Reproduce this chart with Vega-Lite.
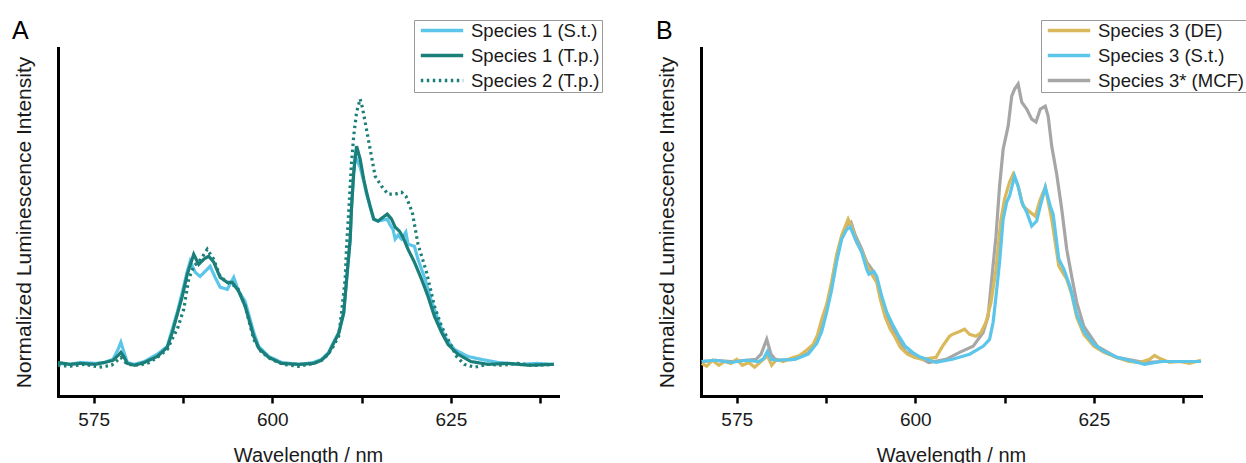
{
"$schema": "https://vega.github.io/schema/vega-lite/v6.json",
"background": "white",
"padding": {"left": 12, "top": 18, "right": 2, "bottom": 0},
"bounds": "flush",
"spacing": 143,
"datasets": {
"A": [
{"s":"Species 1 (S.t.)","w":570.0,"v":0.003},{"s":"Species 1 (S.t.)","w":571.7,"v":0.0},{"s":"Species 1 (S.t.)","w":573.1,"v":0.006},{"s":"Species 1 (S.t.)","w":575.2,"v":0.003},{"s":"Species 1 (S.t.)","w":576.5,"v":0.006},{"s":"Species 1 (S.t.)","w":577.7,"v":0.016},{"s":"Species 1 (S.t.)","w":578.4,"v":0.047},{"s":"Species 1 (S.t.)","w":578.8,"v":0.07},{"s":"Species 1 (S.t.)","w":579.2,"v":0.041},{"s":"Species 1 (S.t.)","w":579.7,"v":0.006},{"s":"Species 1 (S.t.)","w":580.7,"v":0.0},{"s":"Species 1 (S.t.)","w":582.1,"v":0.009},{"s":"Species 1 (S.t.)","w":583.9,"v":0.032},{"s":"Species 1 (S.t.)","w":585.3,"v":0.057},{"s":"Species 1 (S.t.)","w":586.0,"v":0.111},{"s":"Species 1 (S.t.)","w":586.7,"v":0.165},{"s":"Species 1 (S.t.)","w":587.4,"v":0.228},{"s":"Species 1 (S.t.)","w":588.1,"v":0.294},{"s":"Species 1 (S.t.)","w":588.5,"v":0.326},{"s":"Species 1 (S.t.)","w":589.2,"v":0.291},{"s":"Species 1 (S.t.)","w":589.9,"v":0.278},{"s":"Species 1 (S.t.)","w":590.6,"v":0.294},{"s":"Species 1 (S.t.)","w":591.3,"v":0.31},{"s":"Species 1 (S.t.)","w":592.0,"v":0.275},{"s":"Species 1 (S.t.)","w":592.7,"v":0.244},{"s":"Species 1 (S.t.)","w":593.7,"v":0.237},{"s":"Species 1 (S.t.)","w":594.6,"v":0.275},{"s":"Species 1 (S.t.)","w":595.3,"v":0.231},{"s":"Species 1 (S.t.)","w":596.2,"v":0.199},{"s":"Species 1 (S.t.)","w":597.4,"v":0.101},{"s":"Species 1 (S.t.)","w":598.1,"v":0.057},{"s":"Species 1 (S.t.)","w":599.5,"v":0.025},{"s":"Species 1 (S.t.)","w":601.3,"v":0.006},{"s":"Species 1 (S.t.)","w":603.7,"v":0.0},{"s":"Species 1 (S.t.)","w":605.8,"v":0.006},{"s":"Species 1 (S.t.)","w":606.9,"v":0.016},{"s":"Species 1 (S.t.)","w":607.9,"v":0.038},{"s":"Species 1 (S.t.)","w":608.3,"v":0.057},{"s":"Species 1 (S.t.)","w":609.3,"v":0.101},{"s":"Species 1 (S.t.)","w":610.0,"v":0.165},{"s":"Species 1 (S.t.)","w":610.4,"v":0.269},{"s":"Species 1 (S.t.)","w":610.9,"v":0.396},{"s":"Species 1 (S.t.)","w":611.1,"v":0.5},{"s":"Species 1 (S.t.)","w":611.4,"v":0.608},{"s":"Species 1 (S.t.)","w":611.6,"v":0.658},{"s":"Species 1 (S.t.)","w":611.8,"v":0.649},{"s":"Species 1 (S.t.)","w":612.3,"v":0.623},{"s":"Species 1 (S.t.)","w":612.8,"v":0.579},{"s":"Species 1 (S.t.)","w":613.2,"v":0.538},{"s":"Species 1 (S.t.)","w":613.7,"v":0.497},{"s":"Species 1 (S.t.)","w":614.2,"v":0.459},{"s":"Species 1 (S.t.)","w":614.8,"v":0.453},{"s":"Species 1 (S.t.)","w":615.5,"v":0.456},{"s":"Species 1 (S.t.)","w":616.1,"v":0.459},{"s":"Species 1 (S.t.)","w":616.5,"v":0.44},{"s":"Species 1 (S.t.)","w":616.9,"v":0.427},{"s":"Species 1 (S.t.)","w":617.2,"v":0.396},{"s":"Species 1 (S.t.)","w":617.6,"v":0.408},{"s":"Species 1 (S.t.)","w":618.1,"v":0.396},{"s":"Species 1 (S.t.)","w":618.7,"v":0.418},{"s":"Species 1 (S.t.)","w":619.0,"v":0.38},{"s":"Species 1 (S.t.)","w":619.9,"v":0.373},{"s":"Species 1 (S.t.)","w":620.4,"v":0.332},{"s":"Species 1 (S.t.)","w":621.4,"v":0.269},{"s":"Species 1 (S.t.)","w":622.2,"v":0.206},{"s":"Species 1 (S.t.)","w":623.2,"v":0.142},{"s":"Species 1 (S.t.)","w":624.1,"v":0.089},{"s":"Species 1 (S.t.)","w":625.5,"v":0.047},{"s":"Species 1 (S.t.)","w":627.4,"v":0.025},{"s":"Species 1 (S.t.)","w":629.2,"v":0.016},{"s":"Species 1 (S.t.)","w":631.6,"v":0.006},{"s":"Species 1 (S.t.)","w":634.8,"v":0.0},{"s":"Species 1 (S.t.)","w":637.1,"v":0.003},{"s":"Species 1 (S.t.)","w":639.4,"v":0.0},
{"s":"Species 1 (T.p.)","w":570.0,"v":0.006},{"s":"Species 1 (T.p.)","w":571.7,"v":0.0},{"s":"Species 1 (T.p.)","w":573.1,"v":0.003},{"s":"Species 1 (T.p.)","w":575.2,"v":0.0},{"s":"Species 1 (T.p.)","w":576.5,"v":0.006},{"s":"Species 1 (T.p.)","w":577.7,"v":0.013},{"s":"Species 1 (T.p.)","w":578.4,"v":0.028},{"s":"Species 1 (T.p.)","w":578.8,"v":0.038},{"s":"Species 1 (T.p.)","w":579.2,"v":0.025},{"s":"Species 1 (T.p.)","w":579.7,"v":0.003},{"s":"Species 1 (T.p.)","w":580.7,"v":-0.003},{"s":"Species 1 (T.p.)","w":582.1,"v":0.006},{"s":"Species 1 (T.p.)","w":583.9,"v":0.025},{"s":"Species 1 (T.p.)","w":585.3,"v":0.054},{"s":"Species 1 (T.p.)","w":586.0,"v":0.101},{"s":"Species 1 (T.p.)","w":586.7,"v":0.158},{"s":"Species 1 (T.p.)","w":587.4,"v":0.215},{"s":"Species 1 (T.p.)","w":588.1,"v":0.285},{"s":"Species 1 (T.p.)","w":589.0,"v":0.348},{"s":"Species 1 (T.p.)","w":589.7,"v":0.316},{"s":"Species 1 (T.p.)","w":590.4,"v":0.332},{"s":"Species 1 (T.p.)","w":591.1,"v":0.342},{"s":"Species 1 (T.p.)","w":591.8,"v":0.323},{"s":"Species 1 (T.p.)","w":592.7,"v":0.275},{"s":"Species 1 (T.p.)","w":593.7,"v":0.259},{"s":"Species 1 (T.p.)","w":594.4,"v":0.259},{"s":"Species 1 (T.p.)","w":595.3,"v":0.231},{"s":"Species 1 (T.p.)","w":596.2,"v":0.184},{"s":"Species 1 (T.p.)","w":597.4,"v":0.089},{"s":"Species 1 (T.p.)","w":598.1,"v":0.051},{"s":"Species 1 (T.p.)","w":599.5,"v":0.022},{"s":"Species 1 (T.p.)","w":601.3,"v":0.003},{"s":"Species 1 (T.p.)","w":603.7,"v":0.0},{"s":"Species 1 (T.p.)","w":605.8,"v":0.003},{"s":"Species 1 (T.p.)","w":606.9,"v":0.013},{"s":"Species 1 (T.p.)","w":607.9,"v":0.035},{"s":"Species 1 (T.p.)","w":608.3,"v":0.054},{"s":"Species 1 (T.p.)","w":609.3,"v":0.098},{"s":"Species 1 (T.p.)","w":610.0,"v":0.162},{"s":"Species 1 (T.p.)","w":610.4,"v":0.266},{"s":"Species 1 (T.p.)","w":610.9,"v":0.393},{"s":"Species 1 (T.p.)","w":611.1,"v":0.497},{"s":"Species 1 (T.p.)","w":611.4,"v":0.605},{"s":"Species 1 (T.p.)","w":611.6,"v":0.649},{"s":"Species 1 (T.p.)","w":611.8,"v":0.69},{"s":"Species 1 (T.p.)","w":612.3,"v":0.649},{"s":"Species 1 (T.p.)","w":612.8,"v":0.585},{"s":"Species 1 (T.p.)","w":613.2,"v":0.544},{"s":"Species 1 (T.p.)","w":613.7,"v":0.5},{"s":"Species 1 (T.p.)","w":614.2,"v":0.459},{"s":"Species 1 (T.p.)","w":614.8,"v":0.453},{"s":"Species 1 (T.p.)","w":615.5,"v":0.465},{"s":"Species 1 (T.p.)","w":616.1,"v":0.475},{"s":"Species 1 (T.p.)","w":616.7,"v":0.459},{"s":"Species 1 (T.p.)","w":617.2,"v":0.434},{"s":"Species 1 (T.p.)","w":617.8,"v":0.421},{"s":"Species 1 (T.p.)","w":618.3,"v":0.402},{"s":"Species 1 (T.p.)","w":619.0,"v":0.364},{"s":"Species 1 (T.p.)","w":619.9,"v":0.323},{"s":"Species 1 (T.p.)","w":620.9,"v":0.269},{"s":"Species 1 (T.p.)","w":621.8,"v":0.215},{"s":"Species 1 (T.p.)","w":622.7,"v":0.152},{"s":"Species 1 (T.p.)","w":623.7,"v":0.101},{"s":"Species 1 (T.p.)","w":624.6,"v":0.063},{"s":"Species 1 (T.p.)","w":626.0,"v":0.032},{"s":"Species 1 (T.p.)","w":627.8,"v":0.009},{"s":"Species 1 (T.p.)","w":630.2,"v":0.0},{"s":"Species 1 (T.p.)","w":633.0,"v":0.003},{"s":"Species 1 (T.p.)","w":636.0,"v":-0.003},{"s":"Species 1 (T.p.)","w":639.4,"v":0.0},
{"s":"Species 2 (T.p.)","w":570.0,"v":-0.003},{"s":"Species 2 (T.p.)","w":571.7,"v":-0.006},{"s":"Species 2 (T.p.)","w":573.8,"v":0.0},{"s":"Species 2 (T.p.)","w":575.8,"v":-0.009},{"s":"Species 2 (T.p.)","w":577.5,"v":-0.003},{"s":"Species 2 (T.p.)","w":578.8,"v":0.022},{"s":"Species 2 (T.p.)","w":579.7,"v":0.0},{"s":"Species 2 (T.p.)","w":581.4,"v":-0.003},{"s":"Species 2 (T.p.)","w":582.8,"v":0.006},{"s":"Species 2 (T.p.)","w":583.9,"v":0.022},{"s":"Species 2 (T.p.)","w":585.3,"v":0.047},{"s":"Species 2 (T.p.)","w":586.3,"v":0.095},{"s":"Species 2 (T.p.)","w":586.7,"v":0.111},{"s":"Species 2 (T.p.)","w":587.6,"v":0.174},{"s":"Species 2 (T.p.)","w":588.3,"v":0.269},{"s":"Species 2 (T.p.)","w":589.0,"v":0.31},{"s":"Species 2 (T.p.)","w":590.0,"v":0.332},{"s":"Species 2 (T.p.)","w":590.9,"v":0.364},{"s":"Species 2 (T.p.)","w":591.8,"v":0.332},{"s":"Species 2 (T.p.)","w":592.7,"v":0.278},{"s":"Species 2 (T.p.)","w":593.7,"v":0.259},{"s":"Species 2 (T.p.)","w":595.1,"v":0.244},{"s":"Species 2 (T.p.)","w":596.2,"v":0.184},{"s":"Species 2 (T.p.)","w":597.4,"v":0.079},{"s":"Species 2 (T.p.)","w":598.4,"v":0.041},{"s":"Species 2 (T.p.)","w":599.8,"v":0.016},{"s":"Species 2 (T.p.)","w":601.6,"v":0.0},{"s":"Species 2 (T.p.)","w":603.7,"v":-0.006},{"s":"Species 2 (T.p.)","w":605.8,"v":0.003},{"s":"Species 2 (T.p.)","w":607.2,"v":0.016},{"s":"Species 2 (T.p.)","w":608.3,"v":0.047},{"s":"Species 2 (T.p.)","w":609.3,"v":0.089},{"s":"Species 2 (T.p.)","w":609.7,"v":0.165},{"s":"Species 2 (T.p.)","w":610.2,"v":0.269},{"s":"Species 2 (T.p.)","w":610.4,"v":0.373},{"s":"Species 2 (T.p.)","w":610.7,"v":0.481},{"s":"Species 2 (T.p.)","w":610.9,"v":0.563},{"s":"Species 2 (T.p.)","w":611.1,"v":0.639},{"s":"Species 2 (T.p.)","w":611.4,"v":0.722},{"s":"Species 2 (T.p.)","w":611.8,"v":0.797},{"s":"Species 2 (T.p.)","w":612.3,"v":0.839},{"s":"Species 2 (T.p.)","w":612.6,"v":0.813},{"s":"Species 2 (T.p.)","w":613.0,"v":0.766},{"s":"Species 2 (T.p.)","w":613.7,"v":0.68},{"s":"Species 2 (T.p.)","w":614.4,"v":0.595},{"s":"Species 2 (T.p.)","w":615.3,"v":0.563},{"s":"Species 2 (T.p.)","w":616.2,"v":0.538},{"s":"Species 2 (T.p.)","w":617.2,"v":0.538},{"s":"Species 2 (T.p.)","w":618.1,"v":0.544},{"s":"Species 2 (T.p.)","w":618.7,"v":0.532},{"s":"Species 2 (T.p.)","w":619.6,"v":0.481},{"s":"Species 2 (T.p.)","w":620.4,"v":0.38},{"s":"Species 2 (T.p.)","w":621.6,"v":0.291},{"s":"Species 2 (T.p.)","w":622.7,"v":0.184},{"s":"Species 2 (T.p.)","w":623.7,"v":0.12},{"s":"Species 2 (T.p.)","w":624.8,"v":0.07},{"s":"Species 2 (T.p.)","w":625.8,"v":0.025},{"s":"Species 2 (T.p.)","w":626.9,"v":0.0},{"s":"Species 2 (T.p.)","w":628.3,"v":-0.009},{"s":"Species 2 (T.p.)","w":630.2,"v":0.0},{"s":"Species 2 (T.p.)","w":632.3,"v":-0.003},{"s":"Species 2 (T.p.)","w":634.3,"v":0.003},{"s":"Species 2 (T.p.)","w":636.4,"v":-0.003},{"s":"Species 2 (T.p.)","w":639.4,"v":0.0}
],
"B": [
{"s":"Species 3* (MCF)","w":570.1,"v":0.009},{"s":"Species 3* (MCF)","w":572.0,"v":0.013},{"s":"Species 3* (MCF)","w":574.2,"v":0.009},{"s":"Species 3* (MCF)","w":576.3,"v":0.013},{"s":"Species 3* (MCF)","w":577.7,"v":0.016},{"s":"Species 3* (MCF)","w":578.4,"v":0.032},{"s":"Species 3* (MCF)","w":579.2,"v":0.079},{"s":"Species 3* (MCF)","w":579.8,"v":0.032},{"s":"Species 3* (MCF)","w":580.5,"v":0.013},{"s":"Species 3* (MCF)","w":583.1,"v":0.016},{"s":"Species 3* (MCF)","w":585.0,"v":0.035},{"s":"Species 3* (MCF)","w":586.2,"v":0.07},{"s":"Species 3* (MCF)","w":586.9,"v":0.117},{"s":"Species 3* (MCF)","w":587.6,"v":0.18},{"s":"Species 3* (MCF)","w":588.3,"v":0.253},{"s":"Species 3* (MCF)","w":589.0,"v":0.339},{"s":"Species 3* (MCF)","w":589.7,"v":0.402},{"s":"Species 3* (MCF)","w":590.4,"v":0.44},{"s":"Species 3* (MCF)","w":591.0,"v":0.449},{"s":"Species 3* (MCF)","w":591.6,"v":0.408},{"s":"Species 3* (MCF)","w":592.5,"v":0.364},{"s":"Species 3* (MCF)","w":593.2,"v":0.323},{"s":"Species 3* (MCF)","w":593.9,"v":0.301},{"s":"Species 3* (MCF)","w":594.6,"v":0.269},{"s":"Species 3* (MCF)","w":595.3,"v":0.212},{"s":"Species 3* (MCF)","w":596.0,"v":0.158},{"s":"Species 3* (MCF)","w":596.8,"v":0.111},{"s":"Species 3* (MCF)","w":597.7,"v":0.073},{"s":"Species 3* (MCF)","w":598.6,"v":0.041},{"s":"Species 3* (MCF)","w":599.6,"v":0.028},{"s":"Species 3* (MCF)","w":600.5,"v":0.022},{"s":"Species 3* (MCF)","w":601.9,"v":0.006},{"s":"Species 3* (MCF)","w":604.3,"v":0.016},{"s":"Species 3* (MCF)","w":606.2,"v":0.038},{"s":"Species 3* (MCF)","w":608.1,"v":0.057},{"s":"Species 3* (MCF)","w":609.5,"v":0.101},{"s":"Species 3* (MCF)","w":610.2,"v":0.152},{"s":"Species 3* (MCF)","w":610.6,"v":0.247},{"s":"Species 3* (MCF)","w":611.3,"v":0.405},{"s":"Species 3* (MCF)","w":611.8,"v":0.563},{"s":"Species 3* (MCF)","w":612.3,"v":0.68},{"s":"Species 3* (MCF)","w":613.0,"v":0.753},{"s":"Species 3* (MCF)","w":613.5,"v":0.848},{"s":"Species 3* (MCF)","w":613.9,"v":0.87},{"s":"Species 3* (MCF)","w":614.4,"v":0.886},{"s":"Species 3* (MCF)","w":614.9,"v":0.829},{"s":"Species 3* (MCF)","w":615.6,"v":0.807},{"s":"Species 3* (MCF)","w":616.3,"v":0.775},{"s":"Species 3* (MCF)","w":616.9,"v":0.766},{"s":"Species 3* (MCF)","w":617.5,"v":0.807},{"s":"Species 3* (MCF)","w":618.2,"v":0.816},{"s":"Species 3* (MCF)","w":618.6,"v":0.785},{"s":"Species 3* (MCF)","w":619.1,"v":0.69},{"s":"Species 3* (MCF)","w":619.8,"v":0.601},{"s":"Species 3* (MCF)","w":620.5,"v":0.491},{"s":"Species 3* (MCF)","w":621.2,"v":0.364},{"s":"Species 3* (MCF)","w":621.9,"v":0.278},{"s":"Species 3* (MCF)","w":622.6,"v":0.196},{"s":"Species 3* (MCF)","w":623.6,"v":0.12},{"s":"Species 3* (MCF)","w":625.5,"v":0.057},{"s":"Species 3* (MCF)","w":628.2,"v":0.022},{"s":"Species 3* (MCF)","w":632.1,"v":0.006},{"s":"Species 3* (MCF)","w":634.9,"v":0.009},{"s":"Species 3* (MCF)","w":640.0,"v":0.009},
{"s":"Species 3 (DE)","w":570.1,"v":0.003},{"s":"Species 3 (DE)","w":570.8,"v":-0.006},{"s":"Species 3 (DE)","w":571.6,"v":0.013},{"s":"Species 3 (DE)","w":572.5,"v":-0.003},{"s":"Species 3 (DE)","w":573.3,"v":0.009},{"s":"Species 3 (DE)","w":574.2,"v":0.003},{"s":"Species 3 (DE)","w":575.0,"v":0.016},{"s":"Species 3 (DE)","w":575.8,"v":-0.003},{"s":"Species 3 (DE)","w":576.7,"v":0.006},{"s":"Species 3 (DE)","w":577.5,"v":-0.009},{"s":"Species 3 (DE)","w":578.4,"v":0.009},{"s":"Species 3 (DE)","w":579.3,"v":0.028},{"s":"Species 3 (DE)","w":579.9,"v":-0.003},{"s":"Species 3 (DE)","w":580.6,"v":0.016},{"s":"Species 3 (DE)","w":581.5,"v":0.009},{"s":"Species 3 (DE)","w":582.6,"v":0.019},{"s":"Species 3 (DE)","w":583.8,"v":0.028},{"s":"Species 3 (DE)","w":584.9,"v":0.047},{"s":"Species 3 (DE)","w":585.7,"v":0.063},{"s":"Species 3 (DE)","w":586.3,"v":0.092},{"s":"Species 3 (DE)","w":586.9,"v":0.142},{"s":"Species 3 (DE)","w":587.6,"v":0.19},{"s":"Species 3 (DE)","w":588.3,"v":0.263},{"s":"Species 3 (DE)","w":589.0,"v":0.348},{"s":"Species 3 (DE)","w":589.7,"v":0.408},{"s":"Species 3 (DE)","w":590.6,"v":0.459},{"s":"Species 3 (DE)","w":591.1,"v":0.434},{"s":"Species 3 (DE)","w":591.8,"v":0.386},{"s":"Species 3 (DE)","w":592.5,"v":0.358},{"s":"Species 3 (DE)","w":593.2,"v":0.316},{"s":"Species 3 (DE)","w":593.9,"v":0.285},{"s":"Species 3 (DE)","w":594.6,"v":0.259},{"s":"Species 3 (DE)","w":595.1,"v":0.206},{"s":"Species 3 (DE)","w":595.8,"v":0.149},{"s":"Species 3 (DE)","w":596.5,"v":0.111},{"s":"Species 3 (DE)","w":597.2,"v":0.085},{"s":"Species 3 (DE)","w":597.9,"v":0.054},{"s":"Species 3 (DE)","w":598.9,"v":0.032},{"s":"Species 3 (DE)","w":599.9,"v":0.022},{"s":"Species 3 (DE)","w":601.0,"v":0.016},{"s":"Species 3 (DE)","w":602.9,"v":0.022},{"s":"Species 3 (DE)","w":603.8,"v":0.057},{"s":"Species 3 (DE)","w":604.8,"v":0.089},{"s":"Species 3 (DE)","w":605.2,"v":0.095},{"s":"Species 3 (DE)","w":606.2,"v":0.104},{"s":"Species 3 (DE)","w":606.9,"v":0.111},{"s":"Species 3 (DE)","w":607.6,"v":0.095},{"s":"Species 3 (DE)","w":608.5,"v":0.089},{"s":"Species 3 (DE)","w":609.2,"v":0.101},{"s":"Species 3 (DE)","w":609.9,"v":0.133},{"s":"Species 3 (DE)","w":610.6,"v":0.196},{"s":"Species 3 (DE)","w":611.3,"v":0.301},{"s":"Species 3 (DE)","w":612.0,"v":0.459},{"s":"Species 3 (DE)","w":612.5,"v":0.522},{"s":"Species 3 (DE)","w":613.2,"v":0.576},{"s":"Species 3 (DE)","w":613.7,"v":0.601},{"s":"Species 3 (DE)","w":614.4,"v":0.563},{"s":"Species 3 (DE)","w":615.1,"v":0.5},{"s":"Species 3 (DE)","w":616.1,"v":0.481},{"s":"Species 3 (DE)","w":616.8,"v":0.468},{"s":"Species 3 (DE)","w":617.5,"v":0.522},{"s":"Species 3 (DE)","w":618.2,"v":0.56},{"s":"Species 3 (DE)","w":619.1,"v":0.459},{"s":"Species 3 (DE)","w":620.1,"v":0.31},{"s":"Species 3 (DE)","w":621.2,"v":0.269},{"s":"Species 3 (DE)","w":621.9,"v":0.222},{"s":"Species 3 (DE)","w":622.6,"v":0.149},{"s":"Species 3 (DE)","w":623.6,"v":0.095},{"s":"Species 3 (DE)","w":625.0,"v":0.057},{"s":"Species 3 (DE)","w":626.4,"v":0.038},{"s":"Species 3 (DE)","w":628.2,"v":0.022},{"s":"Species 3 (DE)","w":629.9,"v":0.009},{"s":"Species 3 (DE)","w":631.4,"v":0.006},{"s":"Species 3 (DE)","w":632.8,"v":0.016},{"s":"Species 3 (DE)","w":633.5,"v":0.028},{"s":"Species 3 (DE)","w":634.2,"v":0.019},{"s":"Species 3 (DE)","w":635.6,"v":0.006},{"s":"Species 3 (DE)","w":637.0,"v":0.009},{"s":"Species 3 (DE)","w":638.4,"v":0.003},{"s":"Species 3 (DE)","w":640.0,"v":0.013},
{"s":"Species 3 (S.t.)","w":570.1,"v":0.009},{"s":"Species 3 (S.t.)","w":572.0,"v":0.013},{"s":"Species 3 (S.t.)","w":574.2,"v":0.006},{"s":"Species 3 (S.t.)","w":576.3,"v":0.013},{"s":"Species 3 (S.t.)","w":578.1,"v":0.009},{"s":"Species 3 (S.t.)","w":578.8,"v":0.019},{"s":"Species 3 (S.t.)","w":579.3,"v":0.041},{"s":"Species 3 (S.t.)","w":579.8,"v":0.016},{"s":"Species 3 (S.t.)","w":580.7,"v":0.013},{"s":"Species 3 (S.t.)","w":583.1,"v":0.016},{"s":"Species 3 (S.t.)","w":585.0,"v":0.032},{"s":"Species 3 (S.t.)","w":586.2,"v":0.066},{"s":"Species 3 (S.t.)","w":586.9,"v":0.104},{"s":"Species 3 (S.t.)","w":587.6,"v":0.165},{"s":"Species 3 (S.t.)","w":588.3,"v":0.237},{"s":"Species 3 (S.t.)","w":589.0,"v":0.326},{"s":"Species 3 (S.t.)","w":589.7,"v":0.396},{"s":"Species 3 (S.t.)","w":590.4,"v":0.427},{"s":"Species 3 (S.t.)","w":590.9,"v":0.434},{"s":"Species 3 (S.t.)","w":591.6,"v":0.396},{"s":"Species 3 (S.t.)","w":592.5,"v":0.354},{"s":"Species 3 (S.t.)","w":593.2,"v":0.301},{"s":"Species 3 (S.t.)","w":593.5,"v":0.285},{"s":"Species 3 (S.t.)","w":594.2,"v":0.294},{"s":"Species 3 (S.t.)","w":594.6,"v":0.278},{"s":"Species 3 (S.t.)","w":595.3,"v":0.215},{"s":"Species 3 (S.t.)","w":596.0,"v":0.165},{"s":"Species 3 (S.t.)","w":596.8,"v":0.127},{"s":"Species 3 (S.t.)","w":597.7,"v":0.089},{"s":"Species 3 (S.t.)","w":598.6,"v":0.057},{"s":"Species 3 (S.t.)","w":599.6,"v":0.038},{"s":"Species 3 (S.t.)","w":600.5,"v":0.025},{"s":"Species 3 (S.t.)","w":602.9,"v":0.006},{"s":"Species 3 (S.t.)","w":605.2,"v":0.016},{"s":"Species 3 (S.t.)","w":607.6,"v":0.032},{"s":"Species 3 (S.t.)","w":609.5,"v":0.057},{"s":"Species 3 (S.t.)","w":610.4,"v":0.079},{"s":"Species 3 (S.t.)","w":610.9,"v":0.133},{"s":"Species 3 (S.t.)","w":611.3,"v":0.215},{"s":"Species 3 (S.t.)","w":611.8,"v":0.323},{"s":"Species 3 (S.t.)","w":612.3,"v":0.459},{"s":"Species 3 (S.t.)","w":612.8,"v":0.513},{"s":"Species 3 (S.t.)","w":613.2,"v":0.532},{"s":"Species 3 (S.t.)","w":613.9,"v":0.595},{"s":"Species 3 (S.t.)","w":614.4,"v":0.563},{"s":"Species 3 (S.t.)","w":614.9,"v":0.513},{"s":"Species 3 (S.t.)","w":615.6,"v":0.481},{"s":"Species 3 (S.t.)","w":616.3,"v":0.437},{"s":"Species 3 (S.t.)","w":617.0,"v":0.453},{"s":"Species 3 (S.t.)","w":617.5,"v":0.5},{"s":"Species 3 (S.t.)","w":618.2,"v":0.56},{"s":"Species 3 (S.t.)","w":618.9,"v":0.5},{"s":"Species 3 (S.t.)","w":619.3,"v":0.475},{"s":"Species 3 (S.t.)","w":620.1,"v":0.332},{"s":"Species 3 (S.t.)","w":620.8,"v":0.301},{"s":"Species 3 (S.t.)","w":621.7,"v":0.244},{"s":"Species 3 (S.t.)","w":622.6,"v":0.158},{"s":"Species 3 (S.t.)","w":623.6,"v":0.104},{"s":"Species 3 (S.t.)","w":625.0,"v":0.063},{"s":"Species 3 (S.t.)","w":626.4,"v":0.041},{"s":"Species 3 (S.t.)","w":628.3,"v":0.022},{"s":"Species 3 (S.t.)","w":630.6,"v":0.009},{"s":"Species 3 (S.t.)","w":632.1,"v":0.0},{"s":"Species 3 (S.t.)","w":634.4,"v":0.009},{"s":"Species 3 (S.t.)","w":637.0,"v":0.009},{"s":"Species 3 (S.t.)","w":640.0,"v":0.009}
]
},
"hconcat": [
{
"width": 500, "height": 348,
"title": {"text": "A", "anchor": "start", "frame": "group", "dx": -46, "dy": 44, "offset": 0, "baseline": "alphabetic", "fontSize": 25, "fontWeight": "normal", "font": "Liberation Sans", "color": "#000"},
"data": {"name": "A"},
"mark": {"type": "line", "strokeWidth": 3.2},
"encoding": {
"x": {"field": "w", "type": "quantitative", "scale": {"domain": [570, 640], "nice": false, "zero": false}, "axis": {"title": "Wavelength / nm", "values": [575, 587.5, 600, 612.5, 625, 637.5], "labelExpr": "datum.value % 25 == 0 ? datum.label : ''"}},
"y": {"field": "v", "type": "quantitative", "scale": {"domain": [-0.1, 1.0], "nice": false, "zero": false}, "axis": {"title": "Normalized Luminescence Intensity"}},
"color": {"field": "s", "type": "nominal", "title": null, "scale": {"domain": ["Species 1 (S.t.)", "Species 1 (T.p.)", "Species 2 (T.p.)"], "range": ["#5BC5EA", "#1B7F79", "#1B7F79"]}, "legend": {"orient": "none", "legendX": 356, "legendY": -28}},
"strokeDash": {"field": "s", "type": "nominal", "title": null, "scale": {"domain": ["Species 1 (S.t.)", "Species 1 (T.p.)", "Species 2 (T.p.)"], "range": [[1, 0], [1, 0], [2.5, 3.5]]}, "legend": {"orient": "none", "legendX": 356, "legendY": -28}}
}
},
{
"width": 500, "height": 348,
"title": {"text": "B", "anchor": "start", "frame": "group", "dx": -45, "dy": 44, "offset": 0, "baseline": "alphabetic", "fontSize": 25, "fontWeight": "normal", "font": "Liberation Sans", "color": "#000"},
"data": {"name": "B"},
"mark": {"type": "line", "strokeWidth": 3.2},
"encoding": {
"x": {"field": "w", "type": "quantitative", "scale": {"domain": [570, 640], "nice": false, "zero": false}, "axis": {"title": "Wavelength / nm", "values": [575, 587.5, 600, 612.5, 625, 637.5], "labelExpr": "datum.value % 25 == 0 ? datum.label : ''"}},
"y": {"field": "v", "type": "quantitative", "scale": {"domain": [-0.1, 1.0], "nice": false, "zero": false}, "axis": {"title": "Normalized Luminescence Intensity"}},
"color": {"field": "s", "type": "nominal", "title": null, "scale": {"domain": ["Species 3 (DE)", "Species 3 (S.t.)", "Species 3* (MCF)"], "range": ["#D9B95B", "#5BC5EA", "#A6A6A6"]}, "legend": {"orient": "none", "legendX": 340, "legendY": -28}}
}
}
],
"resolve": {"scale": {"color": "independent", "strokeDash": "independent", "x": "independent", "y": "independent"}, "legend": {"color": "independent", "strokeDash": "independent"}},
"config": {
"view": {"stroke": null},
"font": "Liberation Sans",
"axis": {"grid": false, "domainColor": "#000", "domainWidth": 3, "domainCap": "square", "labelFont": "Liberation Sans", "labelFontSize": 19, "labelColor": "#1a1a1a", "titleFont": "Liberation Sans", "titleFontWeight": "normal", "titleColor": "#1a1a1a"},
"axisX": {"tickColor": "#000", "tickWidth": 2.5, "tickSize": 7, "labelPadding": 7, "titleFontSize": 20, "titlePadding": 16, "labelOverlap": false, "labelFlush": false},
"axisY": {"ticks": false, "labels": false, "titleFontSize": 21, "titlePadding": 24},
"legend": {"strokeColor": "#9a9a9a", "fillColor": "#ffffff", "padding": 2, "labelFont": "Liberation Sans", "labelFontSize": 18.5, "labelColor": "#1a1a1a", "symbolType": "stroke", "symbolSize": 1800, "symbolStrokeWidth": 3.5, "symbolOffset": 3, "clipHeight": 17, "rowPadding": 6, "labelOffset": 6, "labelLimit": 400}
}
}
